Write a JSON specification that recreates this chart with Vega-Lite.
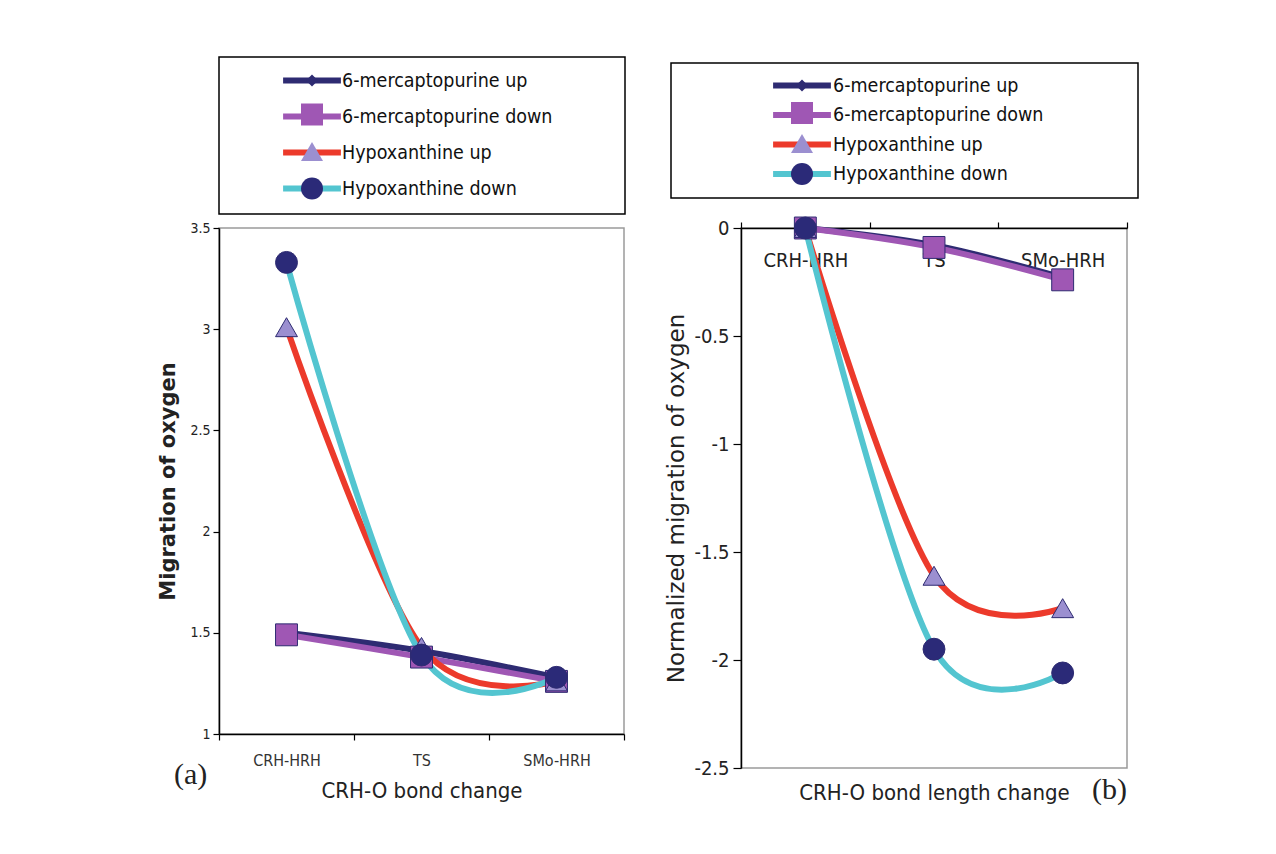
{
  "$schema": "https://vega.github.io/schema/vega-lite/v6.json",
  "background": "white",
  "padding": {"left": 157, "top": 55, "right": 5, "bottom": 5},
  "config": {
    "view": {"stroke": "#9a9a9a", "strokeWidth": 1.5},
    "font": "Liberation Sans",
    "axis": {"grid": false, "domainColor": "#000", "tickColor": "#000", "labelColor": "#222", "titleColor": "#222", "domainWidth": 1.5, "tickWidth": 1.2},
    "legend": {"labelFont": "'DejaVu Sans Condensed', sans-serif", "labelFontSize": 19.5, "labelColor": "#111", "labelLimit": 500, "strokeWidth": 1.5},
    "title": {"font": "Liberation Serif", "fontSize": 30, "fontWeight": "normal", "color": "#222"}
  },
  "data": {
    "values": [
      {"panel": "a", "series": "6-mercaptopurine up", "stage": "CRH-HRH", "value": 1.5},
      {"panel": "a", "series": "6-mercaptopurine up", "stage": "TS", "value": 1.41},
      {"panel": "a", "series": "6-mercaptopurine up", "stage": "SMo-HRH", "value": 1.28},
      {"panel": "a", "series": "6-mercaptopurine down", "stage": "CRH-HRH", "value": 1.49},
      {"panel": "a", "series": "6-mercaptopurine down", "stage": "TS", "value": 1.38},
      {"panel": "a", "series": "6-mercaptopurine down", "stage": "SMo-HRH", "value": 1.26},
      {"panel": "a", "series": "Hypoxanthine up", "stage": "CRH-HRH", "value": 3.01},
      {"panel": "a", "series": "Hypoxanthine up", "stage": "TS", "value": 1.43},
      {"panel": "a", "series": "Hypoxanthine up", "stage": "SMo-HRH", "value": 1.26},
      {"panel": "a", "series": "Hypoxanthine down", "stage": "CRH-HRH", "value": 3.33},
      {"panel": "a", "series": "Hypoxanthine down", "stage": "TS", "value": 1.39},
      {"panel": "a", "series": "Hypoxanthine down", "stage": "SMo-HRH", "value": 1.28},
      {"panel": "b", "series": "6-mercaptopurine up", "stage": "CRH-HRH", "value": 0},
      {"panel": "b", "series": "6-mercaptopurine up", "stage": "TS", "value": -0.08},
      {"panel": "b", "series": "6-mercaptopurine up", "stage": "SMo-HRH", "value": -0.23},
      {"panel": "b", "series": "6-mercaptopurine down", "stage": "CRH-HRH", "value": 0},
      {"panel": "b", "series": "6-mercaptopurine down", "stage": "TS", "value": -0.09},
      {"panel": "b", "series": "6-mercaptopurine down", "stage": "SMo-HRH", "value": -0.24},
      {"panel": "b", "series": "Hypoxanthine up", "stage": "CRH-HRH", "value": 0},
      {"panel": "b", "series": "Hypoxanthine up", "stage": "TS", "value": -1.61},
      {"panel": "b", "series": "Hypoxanthine up", "stage": "SMo-HRH", "value": -1.76},
      {"panel": "b", "series": "Hypoxanthine down", "stage": "CRH-HRH", "value": 0},
      {"panel": "b", "series": "Hypoxanthine down", "stage": "TS", "value": -1.95},
      {"panel": "b", "series": "Hypoxanthine down", "stage": "SMo-HRH", "value": -2.06}
    ]
  },
  "spacing": 38,
  "resolve": {
    "scale": {"x": "independent", "y": "independent", "color": "independent", "fill": "independent", "shape": "independent"},
    "legend": {"color": "independent", "fill": "independent", "shape": "independent"}
  },
  "hconcat": [
    {
      "width": 405,
      "height": 506,
      "transform": [{"filter": "datum.panel === 'a'"}],
      "title": {"text": "(a)", "orient": "bottom", "anchor": "start", "frame": "group", "dx": -45, "dy": -45},
      "encoding": {
        "x": {
          "field": "stage", "type": "nominal", "sort": ["CRH-HRH", "TS", "SMo-HRH"], "bandPosition": 0.5,
          "scale": {"type": "band", "paddingInner": 0, "paddingOuter": 0},
          "axis": {"title": "CRH-O bond change", "orient": "bottom", "labelAngle": 0, "tickBand": "extent", "tickSize": 6, "labelPadding": 12,
                   "labelFont": "'DejaVu Sans Condensed', sans-serif", "labelFontSize": 16, "labelColor": "#333",
                   "titleFont": "'DejaVu Sans Condensed', sans-serif", "titleFontSize": 22, "titleFontWeight": "normal", "titlePadding": 12}
        },
        "y": {
          "field": "value", "type": "quantitative",
          "scale": {"domain": [1, 3.5], "nice": false, "zero": false},
          "axis": {"title": "Migration of oxygen", "values": [1, 1.5, 2, 2.5, 3, 3.5], "format": ".1~f",
                   "labelFont": "'DejaVu Sans Condensed', sans-serif", "labelFontSize": 14, "tickSize": 6, "labelPadding": 3,
                   "titleFont": "DejaVu Sans", "titleFontSize": 21, "titleFontWeight": "bold", "titlePadding": 11}
        }
      },
      "layer": [
        {
          "mark": {"type": "line", "strokeWidth": 6, "interpolate": "cardinal", "tension": 0},
          "encoding": {
            "order": {"value": null},
            "color": {
              "field": "series", "type": "nominal", "sort": ["6-mercaptopurine up", "6-mercaptopurine down", "Hypoxanthine up", "Hypoxanthine down"],
              "scale": {"range": ["#2e2b72", "#9f57b4", "#ec3a2b", "#53c5d0"]},
              "legend": {"title": null, "orient": "none", "legendX": 0, "legendY": -171, "padding": 12, "rowPadding": 11,
                         "symbolType": "M-3.4,0H3.4", "symbolSize": 289, "symbolStrokeWidth": 6, "symbolOffset": 69.5, "labelOffset": 18.5, "zindex": 1}
            }
          }
        },
        {
          "mark": {"type": "point", "filled": true, "size": 480, "opacity": 1, "stroke": "#2e2b72", "strokeWidth": 1},
          "encoding": {
            "fill": {
              "field": "series", "type": "nominal",
              "scale": {"domain": ["6-mercaptopurine up", "6-mercaptopurine down", "Hypoxanthine up", "Hypoxanthine down"], "range": ["#2e2b72", "#9f57b4", "#9b8fd0", "#2b2a78"]},
              "legend": {"title": null, "orient": "none", "legendX": 0, "legendY": -171, "padding": 12, "rowPadding": 11,
                         "symbolSize": 484, "symbolStrokeWidth": 1, "symbolStrokeColor": "#2e2b72", "symbolOpacity": 1, "symbolOffset": 69.5,
                         "labelExpr": "' '", "labelOffset": 289, "strokeColor": "#000", "zindex": 2}
            },
            "shape": {
              "field": "series", "type": "nominal",
              "scale": {"domain": ["6-mercaptopurine up", "6-mercaptopurine down", "Hypoxanthine up", "Hypoxanthine down"], "range": ["M0,-0.55L0.55,0L0,0.55L-0.55,0Z", "square", "triangle-up", "circle"]},
              "legend": {"title": null, "orient": "none", "legendX": 0, "legendY": -171, "padding": 12, "rowPadding": 11,
                         "symbolSize": 484, "symbolStrokeWidth": 1, "symbolStrokeColor": "#2e2b72", "symbolOpacity": 1, "symbolOffset": 69.5,
                         "labelExpr": "' '", "labelOffset": 289, "strokeColor": "#000", "zindex": 2}
            }
          }
        }
      ]
    },
    {
      "width": 386,
      "height": 540,
      "transform": [{"filter": "datum.panel === 'b'"}],
      "title": {"text": "(b)", "orient": "bottom", "anchor": "end", "frame": "group", "dx": 0, "dy": -32},
      "resolve": {"scale": {"x": "independent"}},
      "encoding": {
        "y": {
          "field": "value", "type": "quantitative",
          "scale": {"domain": [-2.5, 0], "nice": false, "zero": false},
          "axis": {"title": "Normalized migration of oxygen", "values": [-2.5, -2, -1.5, -1, -0.5, 0], "format": ".1~f",
                   "labelExpr": "replace(datum.label, '\u2212', '-')",
                   "labelFont": "'DejaVu Sans Condensed', sans-serif", "labelFontSize": 20, "tickSize": 8, "labelPadding": 4,
                   "titleFont": "DejaVu Sans", "titleFontSize": 23, "titleFontWeight": "normal", "titlePadding": 5}
        }
      },
      "layer": [
        {
          "mark": {"type": "line", "strokeWidth": 6, "interpolate": "cardinal", "tension": 0},
          "encoding": {
            "x": {
              "field": "stage", "type": "nominal", "sort": ["CRH-HRH", "TS", "SMo-HRH"], "bandPosition": 0.5,
              "scale": {"type": "band", "paddingInner": 0, "paddingOuter": 0},
              "axis": {"title": null, "orient": "top", "labelAngle": 0, "tickBand": "extent", "tickSize": 6, "labelPadding": -48,
                       "labelFont": "'DejaVu Sans Condensed', sans-serif", "labelFontSize": 20, "labelColor": "#222"}
            },
            "order": {"value": null},
            "color": {
              "field": "series", "type": "nominal", "sort": ["6-mercaptopurine up", "6-mercaptopurine down", "Hypoxanthine up", "Hypoxanthine down"],
              "scale": {"range": ["#2e2b72", "#9f57b4", "#ec3a2b", "#53c5d0"]},
              "legend": {"title": null, "orient": "none", "legendX": -70, "legendY": -165, "padding": 11, "rowPadding": 4.5,
                         "symbolType": "M-3.4,0H3.4", "symbolSize": 289, "symbolStrokeWidth": 6, "symbolOffset": 108.5, "labelOffset": 19.5, "zindex": 1}
            }
          }
        },
        {
          "mark": {"type": "point", "filled": true, "size": 480, "opacity": 1, "stroke": "#2e2b72", "strokeWidth": 1},
          "encoding": {
            "x": {
              "field": "stage", "type": "nominal", "sort": ["CRH-HRH", "TS", "SMo-HRH"], "bandPosition": 0.5,
              "scale": {"type": "band", "paddingInner": 0, "paddingOuter": 0},
              "axis": {"title": "CRH-O bond length change", "orient": "bottom", "labels": false, "ticks": false, "domain": false,
                       "titleFont": "'DejaVu Sans Condensed', sans-serif", "titleFontSize": 22, "titleFontWeight": "normal", "titlePadding": 14}
            },
            "fill": {
              "field": "series", "type": "nominal",
              "scale": {"domain": ["6-mercaptopurine up", "6-mercaptopurine down", "Hypoxanthine up", "Hypoxanthine down"], "range": ["#2e2b72", "#9f57b4", "#9b8fd0", "#2b2a78"]},
              "legend": {"title": null, "orient": "none", "legendX": -70, "legendY": -165, "padding": 11, "rowPadding": 4.5,
                         "symbolSize": 484, "symbolStrokeWidth": 1, "symbolStrokeColor": "#2e2b72", "symbolOpacity": 1, "symbolOffset": 108.5,
                         "labelExpr": "' '", "labelOffset": 313, "strokeColor": "#000", "zindex": 2}
            },
            "shape": {
              "field": "series", "type": "nominal",
              "scale": {"domain": ["6-mercaptopurine up", "6-mercaptopurine down", "Hypoxanthine up", "Hypoxanthine down"], "range": ["M0,-0.55L0.55,0L0,0.55L-0.55,0Z", "square", "triangle-up", "circle"]},
              "legend": {"title": null, "orient": "none", "legendX": -70, "legendY": -165, "padding": 11, "rowPadding": 4.5,
                         "symbolSize": 484, "symbolStrokeWidth": 1, "symbolStrokeColor": "#2e2b72", "symbolOpacity": 1, "symbolOffset": 108.5,
                         "labelExpr": "' '", "labelOffset": 313, "strokeColor": "#000", "zindex": 2}
            }
          }
        }
      ]
    }
  ]
}
